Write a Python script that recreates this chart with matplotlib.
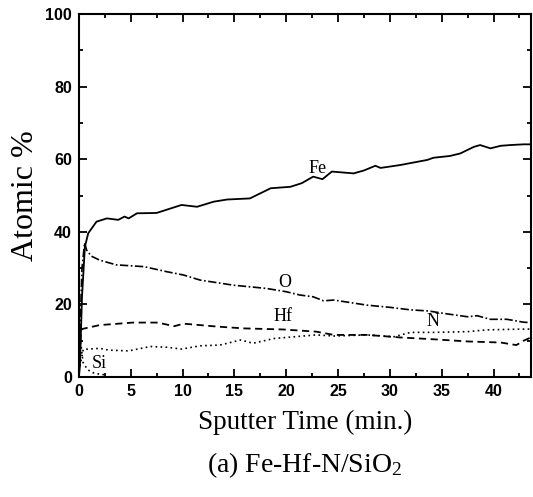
import matplotlib
matplotlib.use("Agg")
from matplotlib import pyplot as plt
from matplotlib.ticker import MultipleLocator

plt.rcParams["mathtext.fontset"] = "custom"
plt.rcParams["mathtext.rm"] = "Liberation Serif"
plt.rcParams["mathtext.it"] = "Liberation Serif:italic"

# sputter time (min) and atomic % for each element
fe_t = [0.0, 0.1, 0.3, 0.58, 0.9, 1.7, 2.7, 3.8, 4.4, 4.8, 5.6, 7.5, 9.9, 11.4, 13.0, 14.3,
        16.5, 18.5, 20.4, 21.5, 22.6, 23.5, 24.4, 26.5, 27.5, 28.6, 29.1, 31.0, 33.6, 34.2,
        35.8, 36.8, 38.1, 38.7, 39.7, 40.7, 41.6, 42.9, 43.6]
fe_v = [0.0, 3.0, 22.0, 35.9, 39.6, 42.8, 43.7, 43.3, 44.2, 43.7, 45.1, 45.2, 47.4, 46.9, 48.3, 48.9,
        49.2, 52.0, 52.4, 53.4, 55.2, 54.5, 56.6, 56.1, 56.9, 58.2, 57.6, 58.4, 59.8, 60.4,
        60.9, 61.6, 63.4, 63.9, 63.0, 63.7, 63.9, 64.1, 64.1]

o_t = [0.0, 0.1, 0.3, 0.55, 0.74, 1.2, 2.0, 3.6, 6.3, 8.5, 10.1, 11.7, 14.9, 18.1, 20.0, 21.3,
       22.6, 23.6, 24.6, 26.2, 27.8, 30.0, 32.0, 33.7, 35.5, 37.5, 38.4, 39.7, 41.3, 42.9, 43.6]
o_v = [0.0, 12.0, 30.0, 37.0, 35.0, 33.3, 32.2, 30.9, 30.4, 29.0, 28.1, 26.7, 25.3, 24.4, 23.5, 22.6,
       22.1, 21.0, 21.2, 20.5, 19.8, 19.2, 18.5, 18.2, 17.4, 16.6, 16.9, 15.9, 15.9, 15.1, 15.0]

hf_t = [0.0, 0.1, 0.26, 2.0, 5.2, 7.6, 9.2, 10.1, 13.3, 15.9, 19.7, 22.9, 24.6, 27.8, 31.0,
        34.2, 37.5, 40.7, 42.2, 42.9, 43.6]
hf_v = [0.0, 9.0, 13.2, 14.3, 15.0, 15.0, 14.0, 14.7, 13.9, 13.4, 13.1, 12.5, 11.6, 11.6, 10.9,
        10.4, 9.8, 9.5, 8.8, 10.0, 10.9]

n_t = [0.1, 0.42, 2.0, 2.9, 4.8, 6.9, 8.5, 9.9, 11.7, 13.6, 15.6, 16.8, 18.8, 20.0, 22.9, 24.6,
       27.8, 30.4, 32.0, 34.2, 37.5, 39.4, 42.9, 43.6]
n_v = [3.0, 7.6, 7.9, 7.4, 7.2, 8.4, 8.2, 7.7, 8.6, 8.8, 10.2, 9.3, 10.6, 10.9, 11.6, 11.3,
       11.6, 11.1, 12.3, 12.3, 12.5, 13.0, 13.2, 13.2]

si_t = [0.05, 0.2, 0.4, 0.8, 1.2, 1.8, 2.5]
si_v = [11.0, 9.0, 4.0, 2.2, 1.3, 0.9, 0.6]

labels = ["Fe", "O", "Hf", "N", "Si"]
label_pos = [(23.0, 57.5), (19.9, 26.1), (19.7, 16.6), (34.2, 15.4), (2.0, 3.8)]

fig = plt.figure(figsize=(5.33, 4.97), dpi=100)
ax = fig.add_axes([0.148, 0.2414, 0.848, 0.7304])

ax.plot(fe_t, fe_v, color="black", lw=1.3, ls="-")
ax.plot(o_t, o_v, color="black", lw=1.2, ls=(0, (5, 1.5, 1, 1.5)))
ax.plot(hf_t, hf_v, color="black", lw=1.3, ls=(0, (4, 2.5)))
ax.plot(n_t, n_v, color="black", lw=1.2, ls=(0, (1, 2)))
ax.plot(si_t, si_v, color="black", lw=1.2, ls=(0, (1, 2)))

for name, (x, y) in zip(labels, label_pos):
    ax.text(x, y, name, family="Liberation Serif", fontsize=13,
            ha="center", va="center")

ax.set_xlim(0, 43.6)
ax.set_ylim(0, 100)
ax.xaxis.set_major_locator(MultipleLocator(5))
ax.xaxis.set_minor_locator(MultipleLocator(2.5))
ax.yaxis.set_major_locator(MultipleLocator(20))
ax.yaxis.set_minor_locator(MultipleLocator(10))
ax.tick_params(which="both", direction="in", top=True, right=True, width=1.3)
ax.tick_params(which="major", length=6, pad=5)
ax.tick_params(which="minor", length=3)
for lab in ax.get_xticklabels() + ax.get_yticklabels():
    lab.set_family("Liberation Sans")
    lab.set_fontweight("bold")
    lab.set_fontsize(11.5)
for sp in ax.spines.values():
    sp.set_linewidth(1.5)

ax.set_ylabel("Atomic %", family="Liberation Serif", fontsize=23, labelpad=4)
ax.set_xlabel("Sputter Time (min.)", family="Liberation Serif", fontsize=19.5, labelpad=8)
fig.text(0.571, 0.065, "(a) Fe-Hf-N/SiO$_2$", family="Liberation Serif", fontsize=20,
         ha="center", va="center")

plt.savefig("out.png", dpi=100)
plt.close()
